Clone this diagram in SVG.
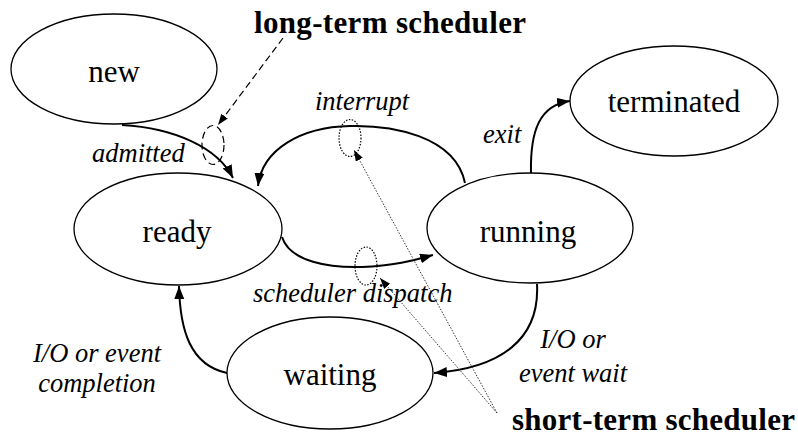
<svg xmlns="http://www.w3.org/2000/svg" width="798" height="445" viewBox="0 0 798 445">
<defs>
<marker id="ah" markerUnits="userSpaceOnUse" markerWidth="14" markerHeight="11" refX="13" refY="5" orient="auto">
<path d="M0,0 L13,5 L0,10 z" fill="#000"/>
</marker>
<marker id="ahs" markerUnits="userSpaceOnUse" markerWidth="12" markerHeight="9" refX="11" refY="4" orient="auto">
<path d="M0,0 L11,4 L0,8 z" fill="#000"/>
</marker>
</defs>
<rect x="0" y="0" width="798" height="445" fill="#fff"/>

<g id="connectors" fill="none" stroke="#000">
<g stroke-width="2" marker-end="url(#ah)">
<path d="M122,125 C175,128 218,148 233,178"/>
<path d="M465,183 C455,135 390,125 350,126 C300,127 262,150 258,186"/>
<path d="M282,237 C290,262 330,268 362,267 C395,266 415,260 433,255"/>
<path d="M531,173 C530,130 540,105 570,101"/>
<path d="M537,284 C540,340 500,368 434,373"/>
<path d="M227,373 C190,365 180,330 179,286"/>
</g>
<g stroke-width="1.2" stroke-dasharray="7,4">
<path d="M283,38 L218,125" marker-end="url(#ahs)"/>
<ellipse cx="213" cy="145" rx="11" ry="19.5"/>
</g>
<g stroke-width="1.2" stroke-dasharray="1.5,1.5">
<ellipse cx="350" cy="138" rx="11" ry="18.5"/>
<ellipse cx="366" cy="266" rx="11" ry="19"/>
</g>
<g stroke="#333" stroke-width="1" stroke-dasharray="1.5,1.5" marker-end="url(#ahs)">
<path d="M497,413 L354,150"/>
<path d="M497,413 L380,278"/>
</g>
</g>

<g id="new"><ellipse cx="114" cy="69" rx="103" ry="55" fill="#fff" stroke="#000" stroke-width="1.3"/><text font-family="Liberation Serif, Times New Roman, serif" font-size="31" text-anchor="middle" x="114" y="82">new</text></g>
<g id="ready"><ellipse cx="178" cy="229" rx="104" ry="56" fill="#fff" stroke="#000" stroke-width="1.3"/><text font-family="Liberation Serif, Times New Roman, serif" font-size="31" text-anchor="middle" x="177" y="242">ready</text></g>
<g id="running"><ellipse cx="530" cy="228" rx="103" ry="55" fill="#fff" stroke="#000" stroke-width="1.3"/><text font-family="Liberation Serif, Times New Roman, serif" font-size="31" text-anchor="middle" x="528" y="242">running</text></g>
<g id="terminated"><ellipse cx="674" cy="101" rx="104" ry="55" fill="#fff" stroke="#000" stroke-width="1.3"/><text font-family="Liberation Serif, Times New Roman, serif" font-size="31" text-anchor="middle" x="674" y="112">terminated</text></g>
<g id="waiting"><ellipse cx="330" cy="373" rx="103" ry="56" fill="#fff" stroke="#000" stroke-width="1.3"/><text font-family="Liberation Serif, Times New Roman, serif" font-size="31" text-anchor="middle" x="330" y="385">waiting</text></g>

<g id="labels">
<text font-family="Liberation Serif, Times New Roman, serif" font-size="26.5" font-style="italic" x="92" y="162">admitted</text>
<text font-family="Liberation Serif, Times New Roman, serif" font-size="26.5" font-style="italic" x="315" y="110">interrupt</text>
<text font-family="Liberation Serif, Times New Roman, serif" font-size="26.5" font-style="italic" x="483" y="143">exit</text>
<text font-family="Liberation Serif, Times New Roman, serif" font-size="26.5" font-style="italic" x="253" y="302">scheduler dispatch</text>
<text font-family="Liberation Serif, Times New Roman, serif" font-size="26.5" font-style="italic" x="97" y="362" text-anchor="middle">I/O or event</text>
<text font-family="Liberation Serif, Times New Roman, serif" font-size="26.5" font-style="italic" x="97" y="392" text-anchor="middle">completion</text>
<text font-family="Liberation Serif, Times New Roman, serif" font-size="26.5" font-style="italic" x="573" y="348" text-anchor="middle">I/O or</text>
<text font-family="Liberation Serif, Times New Roman, serif" font-size="26.5" font-style="italic" x="573" y="382" text-anchor="middle">event wait</text>
<text font-family="Liberation Serif, Times New Roman, serif" font-size="31" font-weight="bold" x="254" y="33" textLength="272" lengthAdjust="spacing">long-term scheduler</text>
<text font-family="Liberation Serif, Times New Roman, serif" font-size="31" font-weight="bold" x="512" y="430" textLength="283" lengthAdjust="spacing">short-term scheduler</text>
</g>
</svg>
